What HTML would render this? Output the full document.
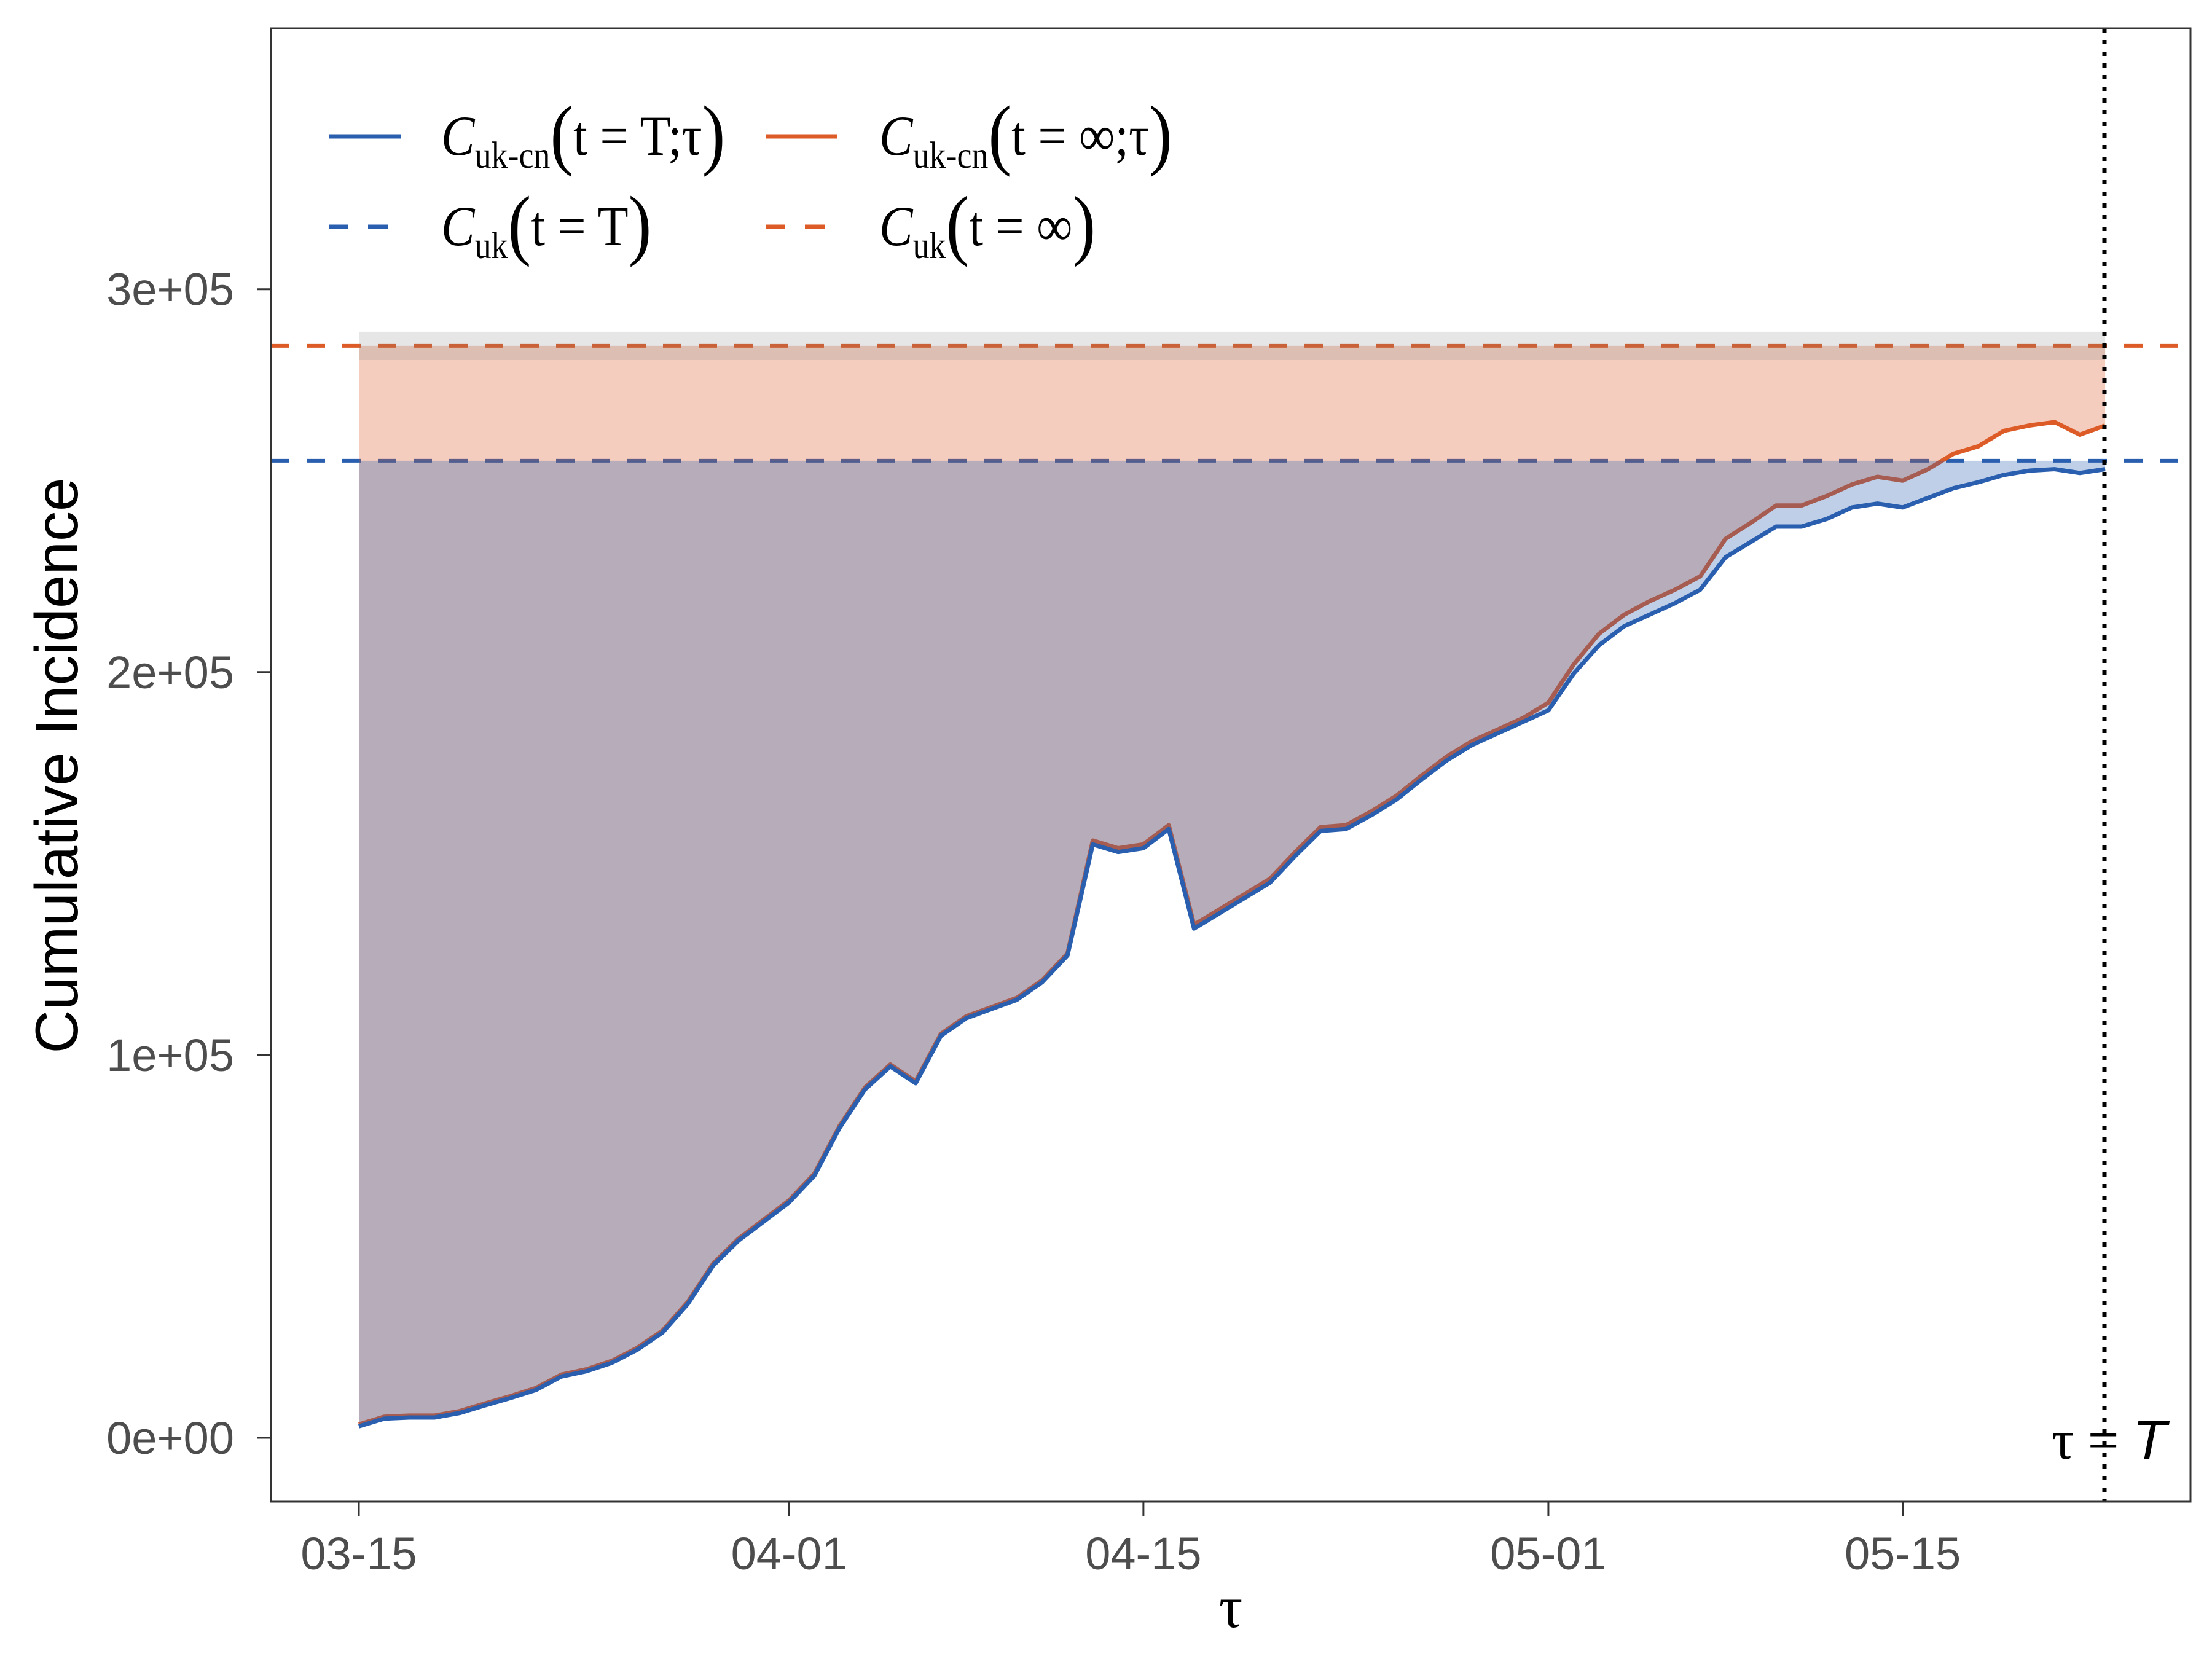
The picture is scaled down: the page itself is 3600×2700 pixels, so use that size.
<!DOCTYPE html>
<html><head><meta charset="utf-8"><style>
html,body{margin:0;padding:0;background:#fff;}
svg{display:block;}
</style></head><body>
<svg id="chart" width="3600" height="2700" viewBox="0 0 3600 2700" xmlns="http://www.w3.org/2000/svg">
<rect x="0" y="0" width="3600" height="2700" fill="#fff"/>
<g id="plot"></g>
<rect x="441" y="46" width="3124" height="2398" fill="none" stroke="#333" stroke-width="3"/>
<g id="axes"></g>
<text x="92" y="1246" transform="rotate(-90 92 1246)" text-anchor="middle" dominant-baseline="central" font-family="Liberation Sans, sans-serif" font-size="98" fill="#000">Cumulative Incidence</text>
<text x="2003" y="2648" text-anchor="middle" font-family="Liberation Serif, serif" font-size="96" fill="#000">τ</text>
<text x="3526" y="2374" text-anchor="end" font-family="Liberation Sans, sans-serif" font-size="90" fill="#000"><tspan font-family="Liberation Serif, serif">τ = </tspan><tspan font-style="italic">T</tspan></text>
<g font-family="Liberation Serif, serif" fill="#000">
  <g>
    <line x1="535" y1="222" x2="653" y2="222" stroke="#2a5faf" stroke-width="7"/>
    <text transform="translate(718,252) scale(0.93,1.05)"><tspan font-style="italic" font-size="88">C</tspan><tspan font-size="58" dy="20">uk-cn</tspan><tspan font-size="122" dy="-12">(</tspan><tspan font-size="88" dy="-8">t = T;τ</tspan><tspan font-size="122" dy="8">)</tspan></text>
  </g>
  <g>
    <line x1="1246" y1="222" x2="1362" y2="222" stroke="#dc5b27" stroke-width="7"/>
    <text transform="translate(1431,252) scale(0.93,1.05)"><tspan font-style="italic" font-size="88">C</tspan><tspan font-size="58" dy="20">uk-cn</tspan><tspan font-size="122" dy="-12">(</tspan><tspan font-size="88" dy="-8">t = ∞;τ</tspan><tspan font-size="122" dy="8">)</tspan></text>
  </g>
  <g>
    <line x1="535" y1="369" x2="653" y2="369" stroke="#2a5faf" stroke-width="7" stroke-dasharray="32 32"/>
    <text transform="translate(718,399) scale(0.93,1.05)"><tspan font-style="italic" font-size="88">C</tspan><tspan font-size="58" dy="20">uk</tspan><tspan font-size="122" dy="-12">(</tspan><tspan font-size="88" dy="-8">t = T</tspan><tspan font-size="122" dy="8">)</tspan></text>
  </g>
  <g>
    <line x1="1246" y1="369" x2="1362" y2="369" stroke="#dc5b27" stroke-width="7" stroke-dasharray="32 32"/>
    <text transform="translate(1431,399) scale(0.93,1.05)"><tspan font-style="italic" font-size="88">C</tspan><tspan font-size="58" dy="20">uk</tspan><tspan font-size="122" dy="-12">(</tspan><tspan font-size="88" dy="-8">t = ∞</tspan><tspan font-size="122" dy="8">)</tspan></text>
  </g>
</g>
</svg>
<script>
// values in thousands, one per day starting 03-15
const blueSeries = [3,5,5.3,5.3,6.5,8.5,10.4,12.5,16,17.4,19.6,23,27.5,35,45,51.5,56.5,61.5,68.5,81,91,97,92.6,105,109.6,112,114.4,119,126,155,153,154,159,133,137,141,145,152,158.5,159,162.6,166.7,172,177,181,184,187,190,199.6,207,212,215,218,221.5,230,234,238,238,240,243,244,243,245.5,248,249.6,251.5,252.6,253,252,253];
const orangeSeries = [3.5,5.5,5.8,5.8,7,9,10.9,13,16.5,17.9,20.1,23.5,28,35.5,45.5,52,57,62,69,81.5,91.5,97.5,93.1,105.5,110.1,112.5,114.9,119.5,126.5,156,154,155,160,134,138,142,146,153,159.5,160,163.6,167.7,173,178,182,185,188,192,202,210,215,218.5,221.5,225,234.8,239,243.5,243.5,246,249,251,250,253,257,259,263,264.4,265.3,262,264.4];
const cukT = 255.2;
const cukInf = 285.2;
const bandLow = [281.5];
const bandHigh = [288.9];
const yTicks = [0,100,200,300];
const yTickLabels = ["0e+00","1e+05","2e+05","3e+05"];
const xTicks = [0,17,31,47,61];
const xTickLabels = ["03-15","04-01","04-15","05-01","05-15"];

const NS = "http://www.w3.org/2000/svg";
const X = d => 584 + d * 41.19;
const Y = v => 2340 - v * 6.231;
const plot = document.getElementById('plot');
const axes = document.getElementById('axes');
function mk(tag, attrs, parent){const e=document.createElementNS(NS,tag);for(const k in attrs)e.setAttribute(k,attrs[k]);parent.appendChild(e);return e;}
const n = blueSeries.length;
const x0 = X(0), xN = X(n-1);

let e = mk('line',{x1:441,x2:3565,y1:Y(cukInf),y2:Y(cukInf),stroke:'#dc5b27','stroke-width':6,'stroke-dasharray':'30 28'},plot);


e = mk('line',{x1:441,x2:3565,y1:Y(cukT),y2:Y(cukT),stroke:'#2a5faf','stroke-width':6,'stroke-dasharray':'30 28'},plot);



function fillPts(series, level){
  let p = `${x0},${Y(level)} ${xN},${Y(level)}`;
  for(let i=n-1;i>=0;i--){ p += ` ${X(i)},${Y(Math.min(series[i],level))}`; }
  return p;
}
function linePts(series){ return series.map((v,i)=>`${X(i)},${Y(v)}`).join(' '); }

e = mk('polygon',{points:fillPts(orangeSeries,cukInf),fill:'#dc5b27','fill-opacity':0.3},plot);


e = mk('polyline',{points:linePts(orangeSeries),fill:'none',stroke:'#dc5b27','stroke-width':7,'stroke-linejoin':'round'},plot);


e = mk('polygon',{points:fillPts(blueSeries,cukT),fill:'#2a5faf','fill-opacity':0.3},plot);


e = mk('rect',{x:x0,y:Y(bandHigh[0]),width:xN-x0,height:Y(bandLow[0])-Y(bandHigh[0]),fill:'#808080','fill-opacity':0.2},plot);


e = mk('polyline',{points:linePts(blueSeries),fill:'none',stroke:'#2a5faf','stroke-width':7,'stroke-linejoin':'round'},plot);


e = mk('line',{x1:3425,x2:3425,y1:46,y2:2444,stroke:'#000','stroke-width':7,'stroke-dasharray':'7 12'},plot);



yTicks.forEach((v,i)=>{
  const t = mk('line',{x1:418,x2:441,y1:Y(v),y2:Y(v),stroke:'#333','stroke-width':3},axes);
  
  
  const l = mk('text',{x:381,y:Y(v)+26,'text-anchor':'end','font-family':'Liberation Sans, sans-serif','font-size':74,fill:'#4d4d4d'},axes);
  l.textContent = yTickLabels[i];
  
  
});
xTicks.forEach((d,i)=>{
  const t = mk('line',{x1:X(d),x2:X(d),y1:2444,y2:2467,stroke:'#333','stroke-width':3},axes);
  
  
  const l = mk('text',{x:X(d),y:2554,'text-anchor':'middle','font-family':'Liberation Sans, sans-serif','font-size':74,fill:'#4d4d4d'},axes);
  l.textContent = xTickLabels[i];
  
  
});
</script>
</body></html>
